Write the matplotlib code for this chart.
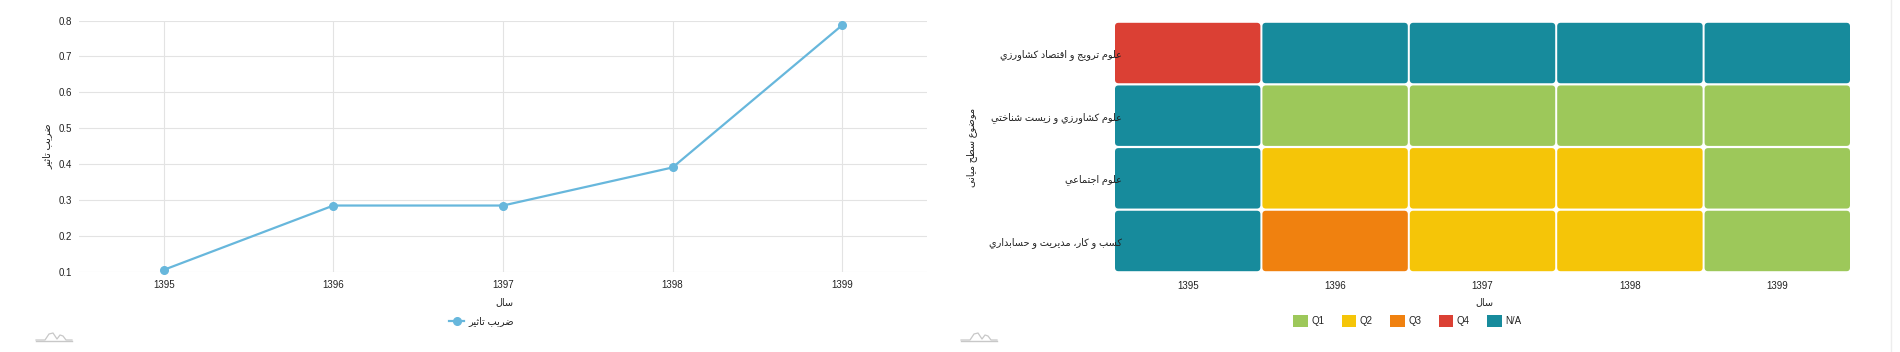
import unicodedata
import numpy as np
import matplotlib
matplotlib.use("Agg")
import matplotlib.pyplot as plt
from matplotlib.patches import FancyBboxPatch, Patch
from matplotlib.lines import Line2D

plt.rcParams['font.family'] = ['Liberation Sans', 'DejaVu Sans']
plt.rcParams['font.size'] = 7

# data
years = ['1395', '1396', '1397', '1398', '1399']
impact = [0.106, 0.285, 0.285, 0.391, 0.787]

subjects = ['علوم ترویج و اقتصاد کشاورزي',
            'علوم کشاورزي و زیست شناختي',
            'علوم اجتماعي',
            'کسب و کار، مدیریت و حسابداري']
quartiles = [['Q4', 'N/A', 'N/A', 'N/A', 'N/A'],
             ['N/A', 'Q1', 'Q1', 'Q1', 'Q1'],
             ['N/A', 'Q2', 'Q2', 'Q2', 'Q1'],
             ['N/A', 'Q3', 'Q2', 'Q2', 'Q1']]
q_names = ['Q1', 'Q2', 'Q3', 'Q4', 'N/A']
q_colors = {'Q1': '#9dc85a', 'Q2': '#f5c508', 'Q3': '#f0810f',
            'Q4': '#db4034', 'N/A': '#178b9c'}

line_color = '#67b7dc'
text_color = '#222222'
grid_color = '#e3e3e3'

RIGHT_ONLY = set('اآأإدذرزژوؤة')


def is_ar(ch):
    return '\u0621' <= ch <= '\u06ff' and ch != '،'


def shape(s):
    # simple arabic/persian shaping + rtl order, matplotlib does no shaping
    out = []
    for i, ch in enumerate(s):
        if not is_ar(ch):
            out.append(ch)
            continue
        prev = s[i - 1] if i > 0 else ''
        nxt = s[i + 1] if i + 1 < len(s) else ''
        p = bool(prev) and is_ar(prev) and prev not in RIGHT_ONLY
        n = bool(nxt) and is_ar(nxt) and ch not in RIGHT_ONLY
        form = {(1, 1): 'MEDIAL', (1, 0): 'FINAL', (0, 1): 'INITIAL', (0, 0): 'ISOLATED'}[(int(p), int(n))]
        try:
            out.append(unicodedata.lookup(unicodedata.name(ch) + ' ' + form + ' FORM'))
        except KeyError:
            out.append(ch)
    return ''.join(reversed(out))


W, H = 1900, 352
fig = plt.figure(figsize=(W / 100, H / 100), dpi=100)


def px(x0, y0, x1, y1):
    return [x0 / W, 1 - y1 / H, (x1 - x0) / W, (y1 - y0) / H]


# ---- left: line chart
ax1 = fig.add_axes(px(79, 20.5, 927, 272))
x = np.arange(len(years))
ax1.plot(x, impact, color=line_color, lw=1.6, marker='o', ms=5.5,
         clip_on=False, zorder=3, label=shape('ضریب تاثیر'))
ax1.set_xlim(-0.5, len(years) - 0.5)
ax1.set_ylim(0.1, 0.8)
ax1.set_xticks(x, years)
yt = np.round(np.arange(0.1, 0.81, 0.1), 1)
ax1.set_yticks(yt, [f'{v:.1f}' for v in yt])
ax1.grid(True, color=grid_color, lw=0.8)
ax1.set_axisbelow(True)
for s in ax1.spines.values():
    s.set_visible(False)
ax1.tick_params(length=0, colors=text_color, labelsize=7)
ax1.tick_params(axis='y', pad=5)
ax1.tick_params(axis='x', pad=6)
ax1.set_ylabel(shape('ضریب تاثیر'), color=text_color, fontsize=7)
ax1.yaxis.set_label_coords(-0.031, 0.5)
ax1.set_xlabel(shape('سال'), color=text_color, fontsize=7)
ax1.xaxis.set_label_coords(0.502, -0.1)
ax1.legend(loc='center', bbox_to_anchor=(0.475, -0.195), frameon=False,
           handlelength=1.5, handletextpad=0.5, fontsize=7, labelcolor=text_color)

# ---- right: quartile heatmap
ax2 = fig.add_axes(px(1114, 21.7, 1851, 272.3))
ax2.set_xlim(-0.5, len(years) - 0.5)
ax2.set_ylim(len(subjects) - 0.5, -0.5)
cw = 737 / len(years)
ch = 250.6 / len(subjects)
gx, gy = 1.0 / cw, 1.1 / ch
for r, row in enumerate(quartiles):
    for c, q in enumerate(row):
        ax2.add_patch(FancyBboxPatch((c - 0.5 + gx, r - 0.5 + gy), 1 - 2 * gx, 1 - 2 * gy,
                                     boxstyle=f'round,pad=0,rounding_size={3.5 / cw}',
                                     mutation_aspect=cw / ch, fc=q_colors[q], ec='none', zorder=1))
ax2.set_xticks(np.arange(len(years)), years)
ax2.set_yticks(np.arange(len(subjects)), [shape(s) for s in subjects])
for s in ax2.spines.values():
    s.set_visible(False)
ax2.tick_params(length=0, colors=text_color, labelsize=7)
ax2.tick_params(axis='x', pad=6)
ax2.tick_params(axis='y', pad=-5.8)
ax2.set_xlabel(shape('سال'), color=text_color, fontsize=7)
ax2.xaxis.set_label_coords(0.503, -0.1)
ax2.set_ylabel(shape('موضوع سطح میانی'), color=text_color, fontsize=7)
ax2.yaxis.set_label_coords(-0.186, 0.5)
handles = [Patch(facecolor=q_colors[q], edgecolor='none', label=q) for q in q_names]
ax2.legend(handles=handles, loc='center', bbox_to_anchor=(0.398, -0.194), ncol=5,
           frameon=False, handlelength=1.5, handleheight=1.5, handletextpad=0.35,
           columnspacing=1.8, fontsize=7, labelcolor=text_color)


# small grey logos bottom left of each chart
def logo(x0):
    xs = np.array([0, 9, 13, 17, 21, 24, 27, 30, 36])
    ys = np.array([340, 340, 334, 333, 339, 335, 336, 340, 340])
    fig.add_artist(Line2D((xs + x0) / W, 1 - ys / H, color='#c8c8c8', lw=0.9))
    fig.add_artist(Line2D([x0 / W, (x0 + 36) / W], [1 - 340.5 / H] * 2, color='#c8c8c8', lw=1.0))


logo(36)
logo(961)

fig.add_artist(Line2D([1891 / W] * 2, [0, 1], color='#ededed', lw=1))

fig.savefig('out.png', dpi=100)
